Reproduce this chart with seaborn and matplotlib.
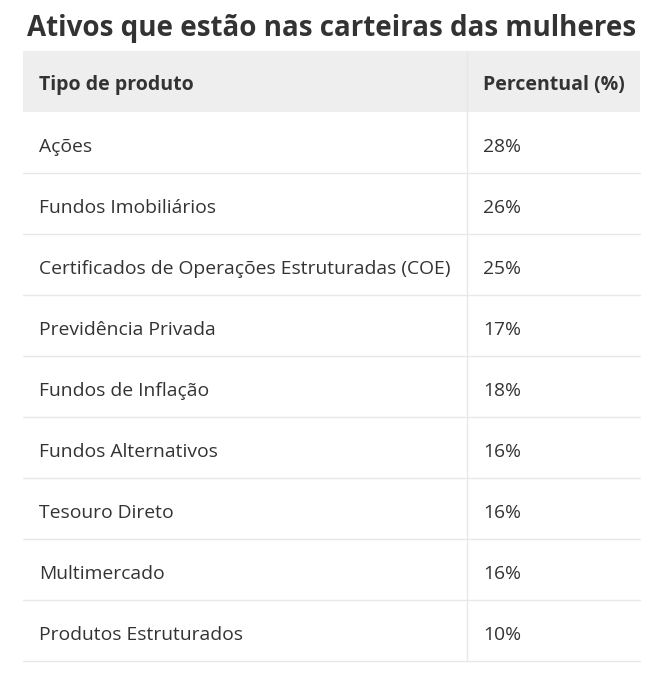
import matplotlib
matplotlib.use("Agg")
import matplotlib.pyplot as plt
import seaborn as sns

title = "Ativos que estão nas carteiras das mulheres"
headers = ["Tipo de produto", "Percentual (%)"]
produtos = ["Ações", "Fundos Imobiliários", "Certificados de Operações Estruturadas (COE)",
            "Previdência Privada", "Fundos de Inflação", "Fundos Alternativos",
            "Tesouro Direto", "Multimercado", "Produtos Estruturados"]
percentuais = [28, 26, 25, 17, 18, 16, 16, 16, 10]

sns.set_theme(style="white")
plt.rcParams['font.family'] = ['Open Sans', 'DejaVu Sans']

W, H = 664, 680
fig = plt.figure(figsize=(W / 100, H / 100), dpi=100)
ax = fig.add_axes([0, 0, 1, 1])
ax.set_xlim(0, W)
ax.set_ylim(H, 0)
ax.axis("off")

txt = "#333333"
line_c = "#e8e8e8"
left, right, divx = 23, 640, 467
head_top, head_bot = 51, 112
row_h = 61

ax.text(W / 2 - 0.5, 36, title, ha="center", va="baseline", fontsize=20.0,
        fontweight="bold", color=txt)

ax.add_patch(plt.Rectangle((left, head_top), right - left, head_bot - head_top,
                           color="#eeeeee", lw=0, zorder=0))
ax.text(39, 90, headers[0], ha="left", va="baseline", fontsize=14.0, fontweight="bold", color=txt)
ax.text(483, 90, headers[1], ha="left", va="baseline", fontsize=14.0, fontweight="bold", color=txt)

n = len(produtos)
ax.plot([divx, divx], [head_top, head_bot + n * row_h], color=line_c, lw=1, zorder=1)
for i, (p, v) in enumerate(zip(produtos, percentuais)):
    top = head_bot + i * row_h
    b = top + 40
    ax.text(39, b, p, ha="left", va="baseline", fontsize=13.9, color=txt)
    ax.text(483, b, f"{v}%", ha="left", va="baseline", fontsize=13.9, color=txt)
    ax.plot([left, right], [top + row_h, top + row_h], color=line_c, lw=1, zorder=1)

fig.savefig("out.png", dpi=100)
